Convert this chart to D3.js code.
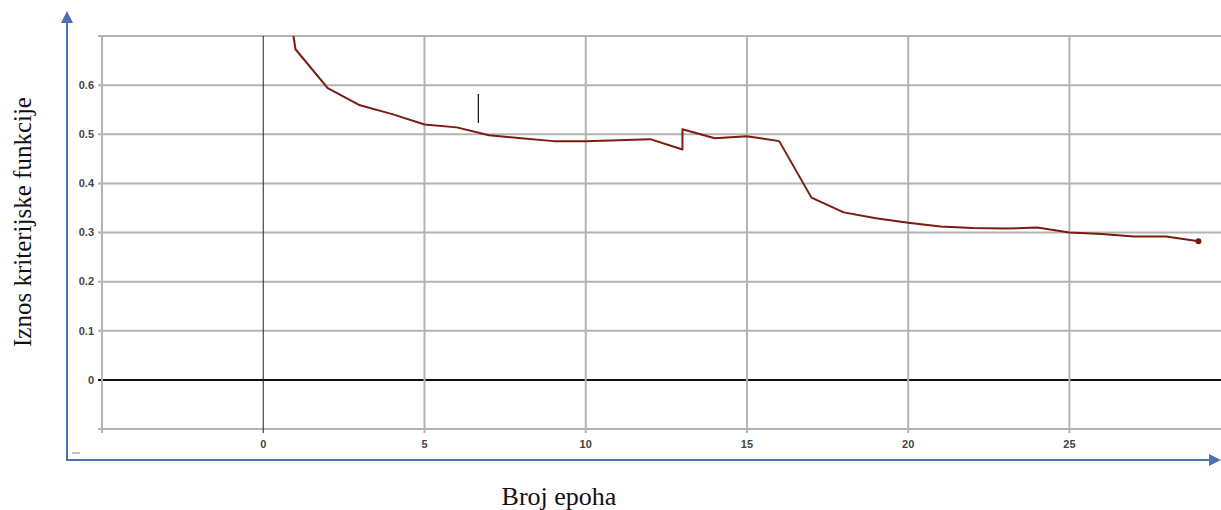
<!DOCTYPE html>
<html>
<head>
<meta charset="utf-8">
<script src="https://cdn.jsdelivr.net/npm/d3@7"></script>
<style>
  html, body { margin: 0; padding: 0; background: #fff; }
  svg { display: block; }
</style>
</head>
<body>
<div id="chart"></div>
<script>
// Epochs and loss values (epoch 13 has a jump)
const epochs = [0, 1, 2, 3, 4, 5, 6, 7, 8, 9, 10, 11, 12, 13, 13, 14, 15, 16, 17, 18, 19, 20, 21, 22, 23, 24, 25, 26, 27, 28, 29];
const lossValues = [1.1, 0.673, 0.594, 0.559, 0.541, 0.52, 0.514, 0.498, 0.492, 0.486, 0.486, 0.488, 0.49, 0.469, 0.51, 0.492, 0.496, 0.486, 0.371, 0.341, 0.329, 0.32, 0.312, 0.309, 0.308, 0.31, 0.3, 0.297, 0.292, 0.292, 0.282];

const xTicks = [-5, 0, 5, 10, 15, 20, 25];
const yTicks = [-0.1, 0, 0.1, 0.2, 0.3, 0.4, 0.5, 0.6, 0.7];
const xLabels = ['', '0', '5', '10', '15', '20', '25'];
const yLabels = ['', '0', '0.1', '0.2', '0.3', '0.4', '0.5', '0.6', ''];

// stray cursor mark in the picture
const cursorMark = { epoch: 6.67, from: 0.523, to: 0.582 };

const W = 1221, H = 510;
const plot = { left: 102, right: 1221, top: 36, bottom: 429 };

const svg = d3.select('#chart').append('svg')
  .attr('width', W)
  .attr('height', H);

const x = d3.scaleLinear().domain([-5, 29.7]).range([plot.left, plot.right]);
const y = d3.scaleLinear().domain([-0.1, 0.7]).range([plot.bottom, plot.top]);

// Grid
svg.append('g')
  .selectAll('line')
  .data(yTicks)
  .join('line')
  .attr('x1', plot.left - 4)
  .attr('x2', plot.right)
  .attr('y1', (d) => y(d))
  .attr('y2', (d) => y(d))
  .attr('stroke', (d) => (d === 0 ? '#111' : '#b3b3b3'))
  .attr('stroke-width', 2);

svg.append('g')
  .selectAll('line')
  .data(xTicks)
  .join('line')
  .attr('x1', (d) => x(d))
  .attr('x2', (d) => x(d))
  .attr('y1', plot.top)
  .attr('y2', plot.bottom + 4)
  .attr('stroke', (d) => (d === 0 ? '#222' : '#b3b3b3'))
  .attr('stroke-width', (d) => (d === 0 ? 1 : 2));

// Tick labels
const tickFont = '"Liberation Sans Narrow", "Arial Narrow", "Liberation Sans", sans-serif';
svg.append('g')
  .selectAll('text')
  .data(yTicks)
  .join('text')
  .attr('x', plot.left - 8)
  .attr('y', (d) => y(d))
  .attr('dy', '0.35em')
  .attr('text-anchor', 'end')
  .attr('font-family', tickFont)
  .attr('font-size', 11)
  .attr('font-weight', 'bold')
  .attr('fill', '#444')
  .text((d, i) => yLabels[i]);

svg.append('g')
  .selectAll('text')
  .data(xTicks)
  .join('text')
  .attr('x', (d) => x(d))
  .attr('y', plot.bottom + 19)
  .attr('text-anchor', 'middle')
  .attr('font-family', tickFont)
  .attr('font-size', 11)
  .attr('font-weight', 'bold')
  .attr('fill', '#444')
  .text((d, i) => xLabels[i]);

// Loss line
svg.append('clipPath')
  .attr('id', 'plot-clip')
  .append('rect')
  .attr('x', plot.left)
  .attr('y', plot.top)
  .attr('width', plot.right - plot.left)
  .attr('height', plot.bottom - plot.top);

const points = epochs.map((e, i) => ({ epoch: e, loss: lossValues[i] }));

const line = d3.line()
  .x((d) => x(d.epoch))
  .y((d) => y(d.loss));

svg.append('path')
  .datum(points)
  .attr('clip-path', 'url(#plot-clip)')
  .attr('fill', 'none')
  .attr('stroke', '#7a1a12')
  .attr('stroke-width', 2)
  .attr('stroke-linejoin', 'round')
  .attr('d', line);

const last = points[points.length - 1];
svg.append('circle')
  .attr('cx', x(last.epoch))
  .attr('cy', y(last.loss))
  .attr('r', 3)
  .attr('fill', '#7a1a12');

svg.append('line')
  .attr('x1', x(cursorMark.epoch))
  .attr('x2', x(cursorMark.epoch))
  .attr('y1', y(cursorMark.from))
  .attr('y2', y(cursorMark.to))
  .attr('stroke', '#111')
  .attr('stroke-width', 1.2);

// Blue arrow axes
const blue = '#4a72b0';
const axisX = 67, axisY = 460;
svg.append('line')
  .attr('x1', axisX).attr('x2', axisX)
  .attr('y1', 22).attr('y2', axisY)
  .attr('stroke', blue).attr('stroke-width', 2);
svg.append('path')
  .attr('d', `M${axisX - 6},${23} L${axisX},${11} L${axisX + 6},${23} Z`)
  .attr('fill', blue);
svg.append('line')
  .attr('x1', axisX - 1).attr('x2', 1211)
  .attr('y1', axisY).attr('y2', axisY)
  .attr('stroke', blue).attr('stroke-width', 2);
svg.append('path')
  .attr('d', `M1209,${axisY - 6} L1221,${axisY} L1209,${axisY + 6} Z`)
  .attr('fill', blue);
svg.append('line')
  .attr('x1', 72).attr('x2', 80)
  .attr('y1', 453).attr('y2', 453)
  .attr('stroke', '#888').attr('stroke-width', 1);

// Axis titles
const titleFont = '"Liberation Serif", "Times New Roman", serif';
svg.append('text')
  .attr('transform', 'translate(31,222) rotate(-90)')
  .attr('text-anchor', 'middle')
  .attr('font-family', titleFont)
  .attr('font-size', 25)
  .attr('fill', '#111')
  .text('Iznos kriterijske funkcije');

svg.append('text')
  .attr('x', 559)
  .attr('y', 505)
  .attr('text-anchor', 'middle')
  .attr('font-family', titleFont)
  .attr('font-size', 26)
  .attr('fill', '#111')
  .text('Broj epoha');
</script>
</body>
</html>
